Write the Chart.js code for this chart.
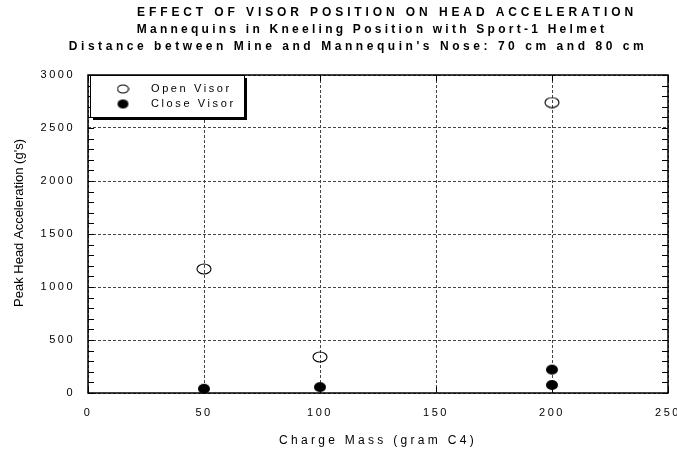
<!DOCTYPE html>
<html lang="en">
<head>
<meta charset="UTF-8" />
<title>Effect of Visor Position on Head Acceleration</title>
<style>
  html,body{margin:0;background:#fff}
  canvas{display:block}
</style>
</head>
<body>
<canvas id="chart" width="677" height="451"></canvas>

<script src="https://cdn.jsdelivr.net/npm/chart.js"></script>
<script>
/* ---------- values ---------- */
const titleLines = [
  'EFFECT OF VISOR POSITION ON HEAD ACCELERATION',
  'Mannequins in Kneeling Position with Sport-1 Helmet',
  "Distance between Mine and Mannequin's Nose: 70 cm and 80 cm"
];
const openLabel  = 'Open Visor';
const closeLabel = 'Close Visor';
const openMass   = [50, 100, 200];
const openAcc    = [1170, 340, 2740];
const closeMass  = [50, 100, 200, 200];
const closeAcc   = [40, 55, 220, 75];
const xTicks = [0, 50, 100, 150, 200, 250];
const yTicks = [0, 500, 1000, 1500, 2000, 2500, 3000];
const yMinorStep = 100;
const xTitle = 'Charge Mass (gram C4)';
const yTitle = "Peak Head Acceleration (g's)";

const FONT = '"Liberation Sans", Arial, sans-serif';
// the scanned title is spaced a little differently on each line
const titleCenter  = [387, 372, 358];
const titleSpacing = ['3.9px', '3.25px', '3.55px'];

// elliptic markers like the original plot
function marker(w, h, filled){
  const c = document.createElement('canvas');
  c.width = w; c.height = h;
  const g = c.getContext('2d');
  g.beginPath();
  g.ellipse(w/2, h/2, w/2 - 1, h/2 - 1, 0, 0, Math.PI*2);
  if(filled){ g.fillStyle = '#000'; g.fill(); }
  else { g.lineWidth = 1.1; g.strokeStyle = '#000'; g.stroke(); }
  return c;
}
const openPt   = marker(16, 12, false);
const closePt  = marker(14, 12, true);
const openKey  = marker(13, 10, false);
const closeKey = marker(13, 11, true);

/* ---------- titles, frame, inner ticks, legend box ---------- */
const frame = {
  id: 'frame',
  beforeUpdate(c){ c.ctx.letterSpacing = '2.5px'; },
  beforeDraw(c){ c.ctx.letterSpacing = '2.5px'; },
  afterDraw(c){
    const {ctx, chartArea: a, scales: {x, y}} = c;
    ctx.save();
    ctx.strokeStyle = '#000';
    ctx.lineWidth = 1;
    ctx.beginPath();
    for(let v = yTicks[0]; v <= yTicks[yTicks.length-1]; v += yMinorStep){
      const py = Math.round(y.getPixelForValue(v)) + 0.5;
      ctx.moveTo(a.left, py);  ctx.lineTo(a.left + 6, py);
      ctx.moveTo(a.right, py); ctx.lineTo(a.right - 6, py);
    }
    xTicks.forEach(v => {
      const px = Math.round(x.getPixelForValue(v)) + 0.5;
      ctx.moveTo(px, a.bottom); ctx.lineTo(px, a.bottom - 6);
      ctx.moveTo(px, a.top);    ctx.lineTo(px, a.top + 6);
    });
    ctx.stroke();

    ctx.lineWidth = 1.5;
    ctx.strokeRect(a.left, a.top, a.right - a.left, a.bottom - a.top);

    // legend with drop shadow
    const lx = a.left + 2, ly = a.top, lw = 154, lh = 42;
    ctx.fillStyle = '#000';
    ctx.fillRect(lx + 3, ly + 3, lw, lh);
    ctx.fillStyle = '#fff';
    ctx.fillRect(lx, ly, lw, lh);
    ctx.lineWidth = 1;
    ctx.strokeRect(lx + 0.5, ly + 0.5, lw, lh);
    ctx.drawImage(openKey,  lx + 33 - openKey.width/2,  ly + 14 - openKey.height/2);
    ctx.drawImage(closeKey, lx + 33 - closeKey.width/2, ly + 29 - closeKey.height/2);
    ctx.fillStyle = '#000';
    ctx.font = '11px ' + FONT;
    ctx.textAlign = 'left';
    ctx.textBaseline = 'middle';
    ctx.letterSpacing = '2.6px';
    ctx.fillText(c.data.datasets[0].label, lx + 61, ly + 14);
    ctx.fillText(c.data.datasets[1].label, lx + 61, ly + 29);

    // chart title
    ctx.textAlign = 'center';
    ctx.font = 'bold 12px ' + FONT;
    titleLines.forEach((t, i) => {
      ctx.letterSpacing = titleSpacing[i];
      ctx.fillText(t, titleCenter[i], 13 + i*17);
    });

    // x axis title
    ctx.font = '12px ' + FONT;
    ctx.letterSpacing = '3.3px';
    ctx.fillText(xTitle, (a.left + a.right)/2, 441);

    // y axis title, no extra spacing
    ctx.letterSpacing = '0px';
    ctx.font = '13px ' + FONT;
    ctx.translate(19, 223);
    ctx.rotate(-Math.PI/2);
    ctx.fillText(yTitle, 0, 0);
    ctx.restore();
  }
};

new Chart(document.getElementById('chart'), {
  type: 'scatter',
  data: {
    datasets: [
      { label: openLabel,  data: openMass.map((m, i) => ({x: m, y: openAcc[i]})),
        pointStyle: openPt, pointRadius: 7, clip: false },
      { label: closeLabel, data: closeMass.map((m, i) => ({x: m, y: closeAcc[i]})),
        pointStyle: closePt, pointRadius: 7, clip: false }
    ]
  },
  options: {
    responsive: false,
    animation: false,
    devicePixelRatio: 1,
    layout: { padding: { left: 0, right: 9, top: 75, bottom: 0 } },
    plugins: {
      legend: { display: false },
      tooltip: { enabled: false },
      title: { display: false }
    },
    scales: {
      x: {
        min: xTicks[0], max: xTicks[xTicks.length-1],
        afterBuildTicks: s => { s.ticks = xTicks.map(v => ({value: v})); },
        afterFit: s => { s.height = 58; s.paddingLeft = 0; s.paddingRight = 0; },
        ticks: { color: '#000', font: { family: FONT, size: 11 }, padding: 13, maxRotation: 0,
                 callback: v => String(v) },
        grid: { color: '#444', lineWidth: 1, drawTicks: false },
        border: { display: false, dash: [3, 2] }
      },
      y: {
        min: yTicks[0], max: yTicks[yTicks.length-1],
        afterBuildTicks: s => { s.ticks = yTicks.map(v => ({value: v})); },
        afterFit: s => { s.width = 88; s.paddingTop = 0; s.paddingBottom = 0; },
        ticks: { color: '#000', font: { family: FONT, size: 11 }, padding: 13,
                 callback: v => String(v) },
        grid: { color: '#444', lineWidth: 1, drawTicks: false },
        border: { display: false, dash: [3, 2] }
      }
    }
  },
  plugins: [frame]
});
</script>
</body>
</html>
